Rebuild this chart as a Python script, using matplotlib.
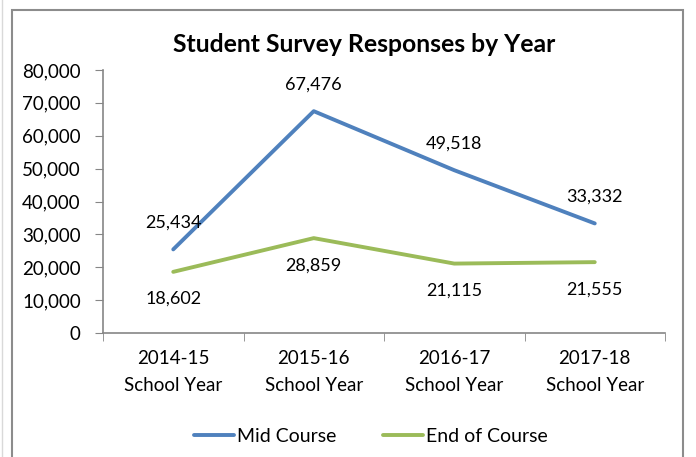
import matplotlib.pyplot as plt
import matplotlib.patches as patches

categories = ["2014-15\nSchool Year", "2015-16\nSchool Year",
              "2016-17\nSchool Year", "2017-18\nSchool Year"]
mid_course = [25434, 67476, 49518, 33332]
end_course = [18602, 28859, 21115, 21555]
yticks = [0, 10000, 20000, 30000, 40000, 50000, 60000, 70000, 80000]

BLUE = "#4F81BD"
GREEN = "#9BBB59"
W, H = 696, 457

plt.rcParams['font.family'] = ['Lato', 'DejaVu Sans']

fig = plt.figure(figsize=(W / 100, H / 100), dpi=100)
fig.patch.set_facecolor("white")

# chart border
fig.add_artist(patches.Rectangle((12 / W, -0.01), (683 - 12) / W, 1 - 10 / H + 0.01,
                                 transform=fig.transFigure, fill=False,
                                 ec="#8c8c8c", lw=1.5))
fig.add_artist(plt.Line2D([2 / W, 2 / W], [0, 1], transform=fig.transFigure,
                          color="#d9d9d9", lw=1))

ax = fig.add_axes([103 / W, 1 - 333 / H, (665 - 103) / W, (333 - 70) / H])
x = list(range(len(categories)))
ax.plot(x, mid_course, color=BLUE, lw=2.8, solid_capstyle="round", label="Mid Course")
ax.plot(x, end_course, color=GREEN, lw=2.8, solid_capstyle="round", label="End of Course")

for xi, v in zip(x, mid_course):
    ax.annotate(f"{v:,}", (xi, v), xytext=(0, 19), textcoords="offset points",
                ha="center", va="center", fontsize=13)
for xi, v in zip(x, end_course):
    ax.annotate(f"{v:,}", (xi, v), xytext=(0, -19.5), textcoords="offset points",
                ha="center", va="center", fontsize=13)

ax.set_xlim(-0.5, len(categories) - 0.5)
ax.set_ylim(0, 80000)
ax.set_yticks(yticks)
ax.set_yticklabels([f"{t:,}" for t in yticks], fontsize=13.5)
ax.set_xticks(x)
ax.set_xticklabels(categories, fontsize=13.5, linespacing=1.75)
ax.tick_params(axis="x", length=0, pad=12)
ax.set_xticks([i - 0.5 for i in range(len(categories) + 1)], minor=True)
ax.tick_params(axis="x", which="minor", length=6, color="#868686", direction="out")
ax.tick_params(axis="y", length=6, color="#868686", direction="out", pad=10)

for s in ["top", "right"]:
    ax.spines[s].set_visible(False)
for s in ["left", "bottom"]:
    ax.spines[s].set_color("#868686")
    ax.spines[s].set_linewidth(1.2)

fig.text(364 / W, 1 - 44 / H, "Student Survey Responses by Year",
         ha="center", va="center", fontsize=17.8, fontweight="bold")

fig.legend(loc="center", bbox_to_anchor=(371 / W, 1 - 436 / H), ncol=2,
           frameon=False, fontsize=14, handlelength=2.05, handletextpad=0.15,
           columnspacing=2.4)

fig.savefig("out.png", dpi=100)
